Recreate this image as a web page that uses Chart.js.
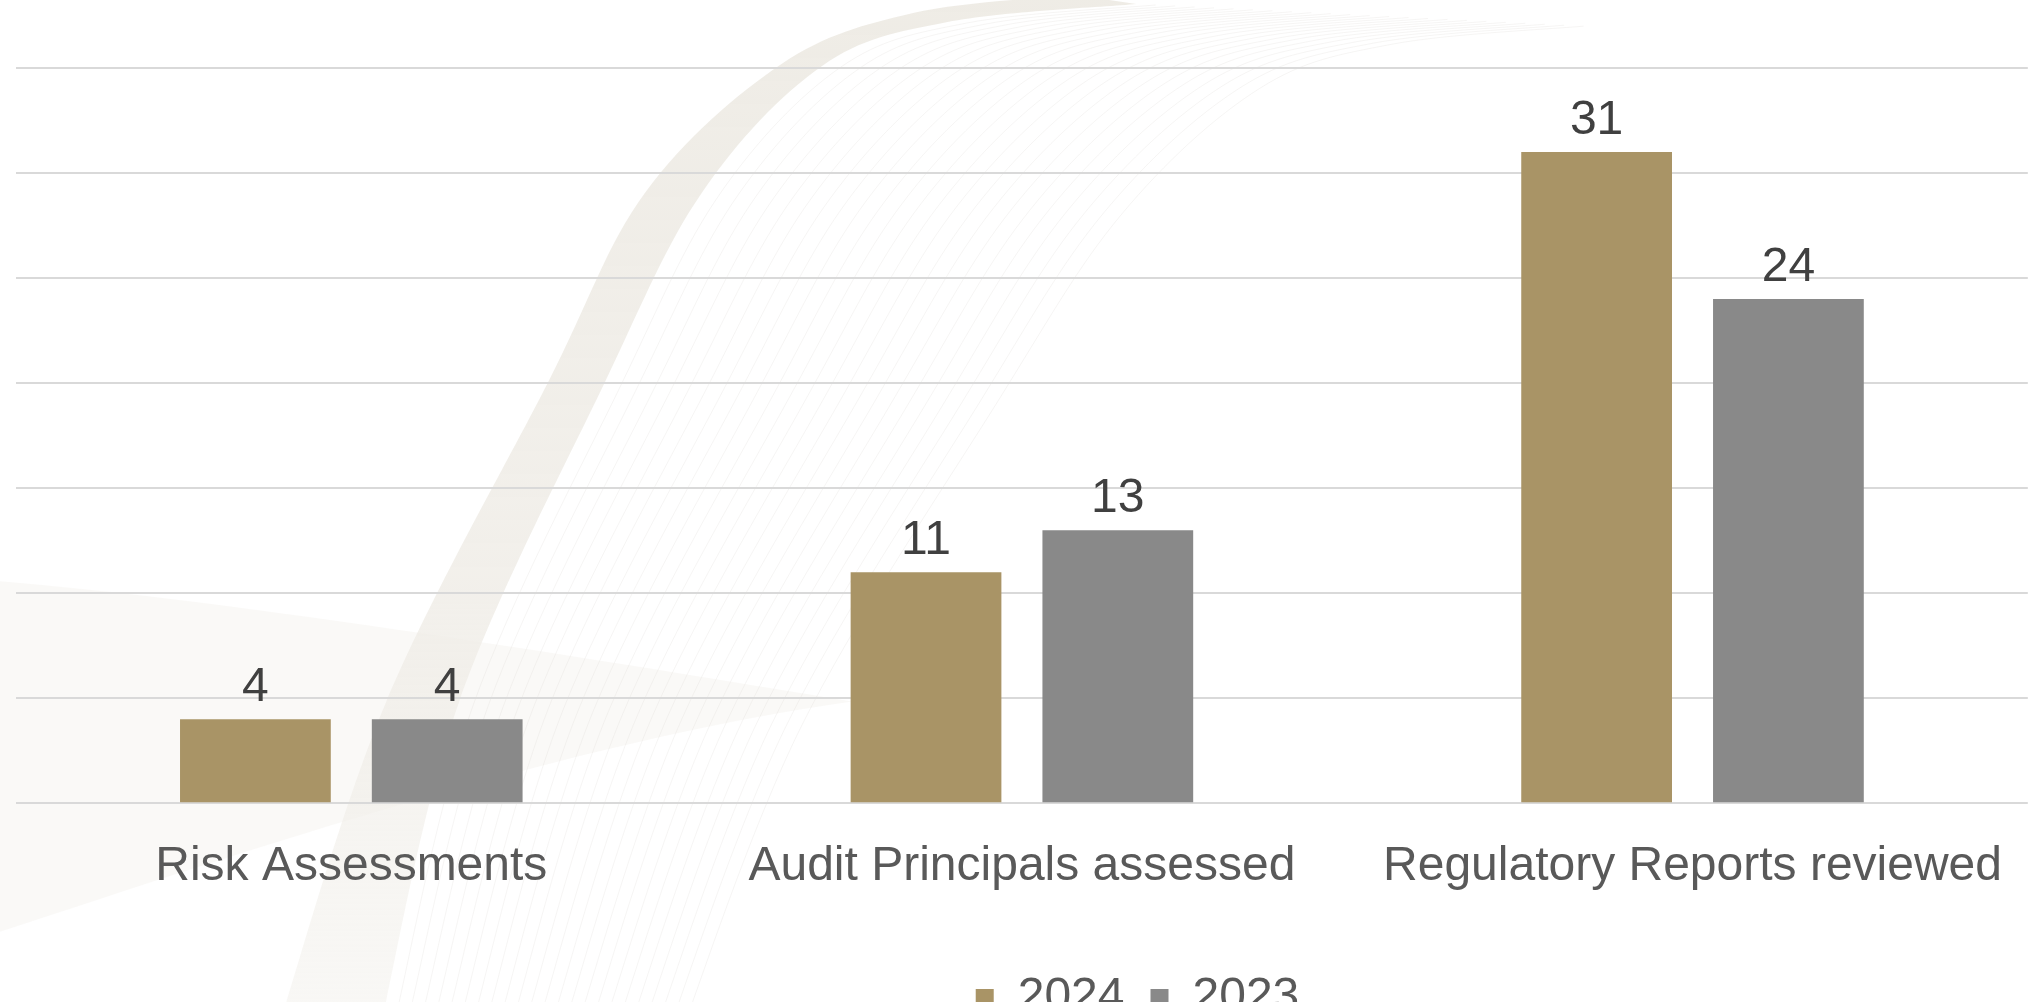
<!DOCTYPE html>
<html>
<head>
<meta charset="utf-8">
<title>Activity 2024 vs 2023</title>
<script src="https://cdn.jsdelivr.net/npm/chart.js@4/dist/chart.umd.min.js"></script>
<style>
    html, body { margin: 0; padding: 0; background: #ffffff; }
    #wrap { width: 2029px; height: 1002px; }
</style>
</head>
<body>
<div id="wrap"><canvas id="activityChart" width="2029" height="1002"></canvas></div>
<script>
    // Data
    const categories = ['Risk Assessments', 'Audit Principals assessed', 'Regulatory Reports reviewed'];
    const seriesNames = ['2024', '2023'];
    const values2024 = [4, 11, 31];
    const values2023 = [4, 13, 24];
    const yTicks = [0, 5, 10, 15, 20, 25, 30, 35];

    const FONT = '"Liberation Sans", Arial, sans-serif';

    // Slide background swoosh (decoration only, fractions of the canvas)
    const bandLeft = [[0.138, 1.02], [0.19, 0.702], [0.27, 0.382], [0.318, 0.192], [0.385, 0.064], [0.45, 0.013], [0.53, -0.005]];
    const bandRight = [[0.56, 0.004], [0.467, 0.022], [0.405, 0.066], [0.346, 0.192], [0.298, 0.382], [0.226, 0.702], [0.188, 1.02]];

    // Catmull-Rom curve through the points
    function splinePath(ctx, pts, W, H, start) {
        const p = pts.map(q => [q[0] * W, q[1] * H]);
        if (start) ctx.moveTo(p[0][0], p[0][1]);
        else ctx.lineTo(p[0][0], p[0][1]);
        for (let i = 0; i < p.length - 1; i++) {
            const p0 = p[i - 1] || p[i], p1 = p[i], p2 = p[i + 1], p3 = p[i + 2] || p[i + 1];
            ctx.bezierCurveTo(
                p1[0] + (p2[0] - p0[0]) / 6, p1[1] + (p2[1] - p0[1]) / 6,
                p2[0] - (p3[0] - p1[0]) / 6, p2[1] - (p3[1] - p1[1]) / 6,
                p2[0], p2[1]);
        }
    }

    const swooshBackground = {
        id: 'swooshBackground',
        beforeDraw(chart) {
            const ctx = chart.ctx;
            const W = chart.width, H = chart.height;
            ctx.save();
            // lower-left faint fan
            ctx.fillStyle = 'rgba(240, 238, 232, 0.35)';
            ctx.beginPath();
            ctx.moveTo(0, H * 0.58);
            ctx.bezierCurveTo(W * 0.12, H * 0.60, W * 0.3, H * 0.66, W * 0.42, H * 0.70);
            ctx.bezierCurveTo(W * 0.28, H * 0.74, W * 0.12, H * 0.85, 0, H * 0.93);
            ctx.closePath();
            ctx.fill();
            // fine hatched lines to the right of the band
            ctx.strokeStyle = 'rgba(214, 211, 204, 0.22)';
            ctx.lineWidth = 1;
            const rightUp = bandRight.slice().reverse();
            for (let k = 1; k < 24; k++) {
                const off = k * 0.008;
                const shifted = rightUp.map(q => [q[0] + off * (1.2 - q[1] * 0.4), q[1] + off * 0.12]);
                ctx.beginPath();
                splinePath(ctx, shifted, W, H, true);
                ctx.stroke();
            }
            // main beige band
            const grad = ctx.createLinearGradient(0, 0, 0, H);
            grad.addColorStop(0, 'rgba(237, 234, 227, 0.9)');
            grad.addColorStop(0.6, 'rgba(239, 236, 230, 0.8)');
            grad.addColorStop(1, 'rgba(242, 240, 235, 0.5)');
            ctx.fillStyle = grad;
            ctx.beginPath();
            splinePath(ctx, bandLeft, W, H, true);
            splinePath(ctx, bandRight, W, H, false);
            ctx.closePath();
            ctx.fill();
            ctx.restore();
        }
    };

    // Value labels above each bar
    const valueLabels = {
        id: 'valueLabels',
        afterDatasetsDraw(chart) {
            const ctx = chart.ctx;
            ctx.save();
            ctx.font = '48px ' + FONT;
            ctx.fillStyle = '#404040';
            ctx.textAlign = 'center';
            ctx.textBaseline = 'alphabetic';
            chart.data.datasets.forEach((ds, i) => {
                chart.getDatasetMeta(i).data.forEach((bar, j) => {
                    ctx.fillText(String(ds.data[j]), bar.x, bar.y - 18);
                });
            });
            ctx.restore();
        }
    };

    // Legend sits right of centre in the original slide
    const legendShift = {
        id: 'legendShift',
        afterLayout(chart) {
            chart.legend.left += 110;
            chart.legend.right += 110;
        }
    };

    const ctx = document.getElementById('activityChart').getContext('2d');
    new Chart(ctx, {
        type: 'bar',
        data: {
            labels: categories,
            datasets: [
                { label: seriesNames[0], data: values2024, backgroundColor: '#A99466' },
                { label: seriesNames[1], data: values2023, backgroundColor: '#898989' }
            ]
        },
        options: {
            responsive: false,
            animation: false,
            devicePixelRatio: 1,
            categoryPercentage: 0.572,
            barPercentage: 0.786,
            layout: { padding: { top: 68, left: 16, right: -10, bottom: -30 } },
            plugins: {
                legend: {
                    position: 'bottom',
                    // empty title only adds a gap above the legend row
                    title: { display: true, text: ' ', padding: 0, font: { family: FONT, size: 21 } },
                    labels: {
                        font: { family: FONT, size: 48 },
                        color: '#595959',
                        boxWidth: 18,
                        boxHeight: 18,
                        padding: 26
                    }
                },
                tooltip: { enabled: false }
            },
            scales: {
                x: {
                    grid: { display: false },
                    border: { display: false },
                    ticks: { font: { family: FONT, size: 48 }, color: '#595959', padding: 27, maxRotation: 0 }
                },
                y: {
                    min: yTicks[0],
                    max: yTicks[yTicks.length - 1],
                    afterBuildTicks: s => { s.ticks = yTicks.map(v => ({ value: v })); },
                    ticks: { display: false },
                    grid: { color: '#D9D9D9', lineWidth: 2, drawTicks: false },
                    border: { display: false }
                }
            }
        },
        plugins: [swooshBackground, valueLabels, legendShift]
    });
</script>
</body>
</html>
